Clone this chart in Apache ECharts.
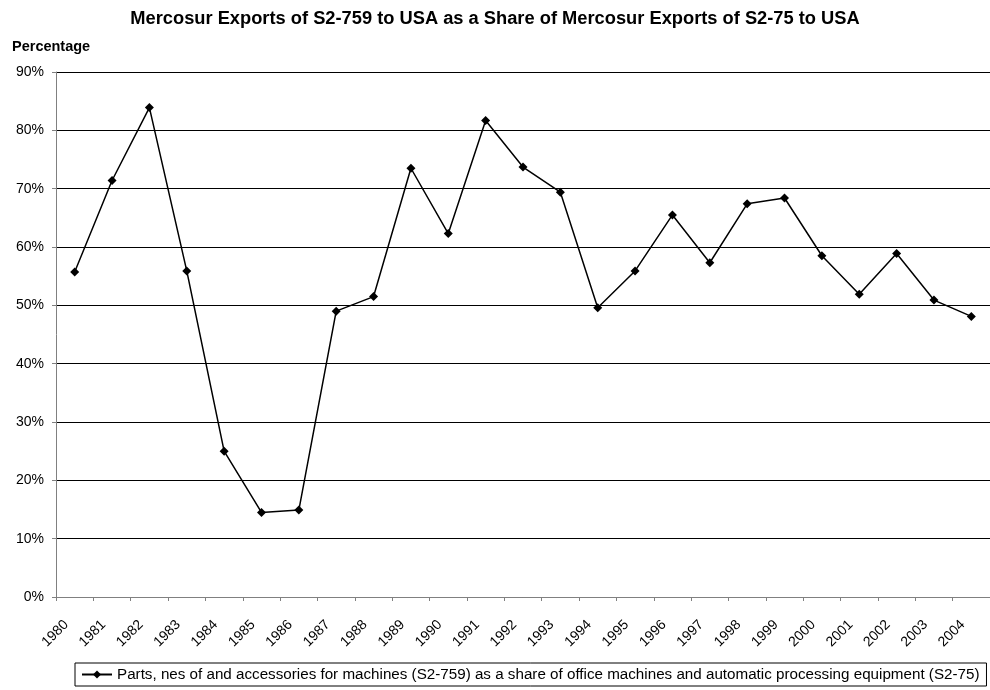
<!DOCTYPE html>
<html>
	<head>
		<meta charset="UTF-8">
		<title>Mercosur Exports</title>
		<style>
			html, body { margin: 0; padding: 0; background: #fff; }
			.box {
				width: 990px;
				height: 690px;
			}
		</style>
	</head>
	<body>
		<div class="box" id="main"></div>
	</body>
</html>
<script type="text/javascript" src="https://cdn.jsdelivr.net/npm/echarts@6/dist/echarts.min.js"></script>
<script>
	var years = ['1980', '1981', '1982', '1983', '1984', '1985', '1986', '1987', '1988', '1989',
	    '1990', '1991', '1992', '1993', '1994', '1995', '1996', '1997', '1998', '1999',
	    '2000', '2001', '2002', '2003', '2004'];
	var shareValues = [55.7, 71.4, 83.9, 55.9, 25.0, 14.5, 14.9, 49.0, 51.5, 73.5,
	    62.3, 81.7, 73.7, 69.4, 49.6, 55.9, 65.5, 57.3, 67.4, 68.4,
	    58.5, 51.9, 58.9, 50.9, 48.1];
	var seriesName = 'Parts, nes of and accessories for machines (S2-759) as a share of office machines and automatic processing equipment (S2-75)';

	var myChart = echarts.init(document.getElementById('main'));
	var font = 'Liberation Sans, Arial, sans-serif';

	var option = {
	    backgroundColor: '#fff',
	    animation: false,
	    title: [{
	        text: 'Mercosur Exports of S2-759 to USA as a Share of Mercosur Exports of S2-75 to USA',
	        left: 'center',
	        top: 5,
	        textStyle: { fontFamily: font, fontSize: 18.3, fontWeight: 'bold', color: '#000' }
	    }, {
	        text: 'Percentage',
	        left: 7,
	        top: 34,
	        textStyle: { fontFamily: font, fontSize: 14.5, fontWeight: 'bold', color: '#000' }
	    }],
	    grid: {
	        left: 56,
	        top: 72,
	        bottom: 93,
	        right: -8.5,
	        containLabel: false
	    },
	    legend: {
	        left: 75,
	        top: 663,
	        padding: [4, 7, 4, 6],
	        borderColor: '#000',
	        borderWidth: 1,
	        borderRadius: 0,
	        itemWidth: 30,
	        itemHeight: 10,
	        itemGap: 4,
	        textStyle: { fontFamily: font, fontSize: 15.2, color: '#000' },
	        data: [seriesName]
	    },
	    xAxis: {
	        type: 'category',
	        data: years,
	        boundaryGap: true,
	        axisLine: { lineStyle: { color: '#808080', width: 1 } },
	        axisTick: { show: true, length: 4, lineStyle: { color: '#808080' } },
	        axisLabel: {
	            rotate: 45,
	            interval: 0,
	            margin: 17,
	            padding: [0, 12, 0, 0],
	            fontFamily: font,
	            fontSize: 14,
	            color: '#000'
	        },
	        splitLine: { show: false }
	    },
	    yAxis: {
	        type: 'value',
	        min: 0,
	        max: 90,
	        interval: 10,
	        axisLine: { show: true, lineStyle: { color: '#808080', width: 1 } },
	        axisTick: { show: true, length: 4, lineStyle: { color: '#808080' } },
	        axisLabel: {
	            formatter: '{value}%',
	            margin: 12,
	            fontFamily: font,
	            fontSize: 14,
	            color: '#000'
	        },
	        splitLine: { show: true, lineStyle: { color: '#000', width: 1 } }
	    },
	    series: [{
	        name: seriesName,
	        type: 'line',
	        data: shareValues,
	        symbol: 'diamond',
	        symbolSize: 9,
	        itemStyle: { color: '#000' },
	        lineStyle: { color: '#000', width: 1.5 }
	    }]
	};
	myChart.setOption(option);
</script>
